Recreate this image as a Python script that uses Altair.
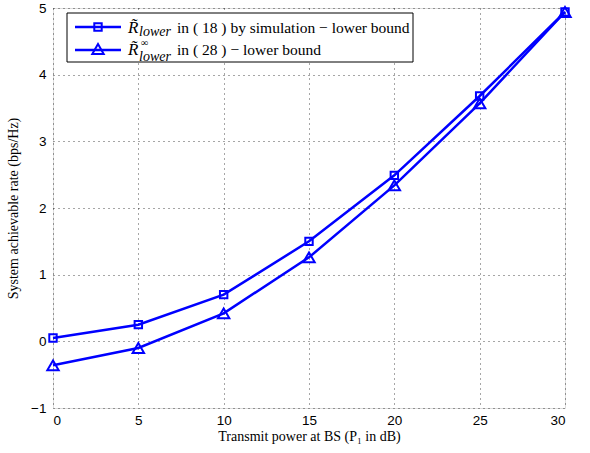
import altair as alt
import pandas as pd

power_db = [0, 5, 10, 15, 20, 25, 30]
r_sim = [0.05, 0.25, 0.70, 1.50, 2.49, 3.68, 4.94]
r_inf = [-0.36, -0.10, 0.42, 1.26, 2.34, 3.57, 4.94]

df = pd.DataFrame({"x": power_db * 2,
                   "y": r_sim + r_inf,
                   "s": ["sim"] * 7 + ["inf"] * 7})

BLUE = "#0000ff"
W, H = 512, 400

common = dict(grid=True, gridDash=[1, 4], gridColor="#000", gridOpacity=0.7,
              ticks=False, domain=False,
              labelFont="Liberation Sans", labelFontSize=13.5, labelColor="#000",
              titleFont="Liberation Serif", titleFontSize=14,
              titleFontWeight="normal", titleColor="#000")

xs = alt.X("x:Q", scale=alt.Scale(domain=[0, 30], nice=False),
           axis=alt.Axis(values=[0, 5, 10, 15, 20, 25, 30], title="Transmit power at BS (P₁ in dB)",
                         labelPadding=5, titlePadding=3, **common))
ys = alt.Y("y:Q", scale=alt.Scale(domain=[-1, 5], nice=False),
           axis=alt.Axis(values=[-1, 0, 1, 2, 3, 4, 5], title="System achievable rate (bps/Hz)",
                         labelPadding=7, titlePadding=10, **common))

base = alt.Chart(df)
line = base.mark_line(color=BLUE, strokeWidth=2.5).encode(x=xs, y=ys, detail="s:N")
sq = base.transform_filter("datum.s == 'sim'").mark_point(
    shape="square", size=55, color=BLUE, strokeWidth=2, filled=False, opacity=1).encode(x=xs, y=ys)
tri = base.transform_filter("datum.s == 'inf'").mark_point(
    shape="triangle-up", size=130, color=BLUE, strokeWidth=2, filled=False, opacity=1).encode(x=xs, y=ys)

one = alt.Chart(pd.DataFrame({"a": [0]}))
# legend box
box = one.mark_rect(fill="white", stroke="black", strokeWidth=1).encode(
    x=alt.value(14), x2=alt.value(360), y=alt.value(5), y2=alt.value(54))
l1 = one.mark_rule(color=BLUE, strokeWidth=2.5).encode(x=alt.value(22), x2=alt.value(68), y=alt.value(19))
l2 = one.mark_rule(color=BLUE, strokeWidth=2.5).encode(x=alt.value(22), x2=alt.value(68), y=alt.value(42))
m1 = one.mark_point(shape="square", size=55, color=BLUE, strokeWidth=2, opacity=1).encode(
    x=alt.value(45), y=alt.value(19))
m2 = one.mark_point(shape="triangle-up", size=130, color=BLUE, strokeWidth=2, opacity=1).encode(
    x=alt.value(45), y=alt.value(41))

def txt(t, x, y, size=15.5, italic=False):
    return one.mark_text(text=t, align="left", baseline="alphabetic", font="Liberation Serif",
                         fontSize=size, fontStyle="italic" if italic else "normal", color="black").encode(
        x=alt.value(x), y=alt.value(y))

texts = [
    txt("R̃", 75, 25, 17, True), txt("lower", 86, 28, 14, True),
    txt("in ( 18 ) by simulation − lower bound", 124, 25),
    txt("R̃", 75, 47, 17, True), txt("∞", 88, 38, 10, True), txt("lower", 86, 53, 14, True),
    txt("in ( 28 )  − lower bound", 124, 47),
]

chart = alt.layer(line, sq, tri, box, l1, l2, m1, m2, *texts).properties(
    width=W, height=H, autosize=alt.AutoSizeParams(type="none"),
    padding={"left": 53, "top": 8, "right": 25, "bottom": 45}
).configure_view(stroke="black", strokeWidth=1.2).configure(background="white")

chart.save("out.html", embed_options={"renderer": "svg", "actions": False})
